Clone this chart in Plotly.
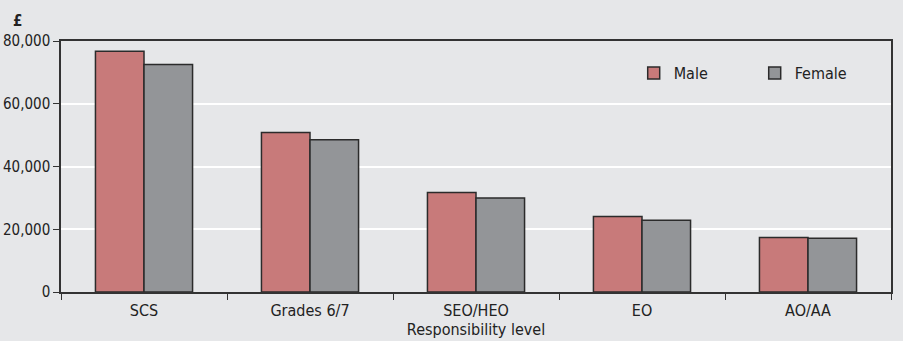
import plotly.graph_objects as go

levels = ["SCS", "Grades 6/7", "SEO/HEO", "EO", "AO/AA"]
male_pay = [76700, 50800, 31700, 24100, 17400]
female_pay = [72500, 48500, 30000, 22900, 17100]
y_ticks = [0, 20000, 40000, 60000, 80000]
y_tick_text = ["0", "20,000", "40,000", "60,000", "80,000"]

BG = "#e6e7e9"
FONT = "Liberation Sans Narrow, DejaVu Sans Condensed, sans-serif"
EDGE = "#2b2b2b"
TEXT = "#222222"

fig = go.Figure()
fig.add_trace(go.Bar(
    name="Male", x=levels, y=male_pay,
    marker=dict(color="#c87a7a", line=dict(color=EDGE, width=1.5)),
))
fig.add_trace(go.Bar(
    name="Female", x=levels, y=female_pay,
    marker=dict(color="#939598", line=dict(color=EDGE, width=1.5)),
))

fig.update_layout(
    width=903, height=341,
    margin=dict(l=61, r=12, t=41, b=49, autoexpand=False),
    paper_bgcolor=BG, plot_bgcolor=BG,
    font=dict(family=FONT, size=16, color=TEXT),
    barmode="group", bargap=0.415, bargroupgap=0,
    legend=dict(
        orientation="h", x=0.69, y=0.872, xanchor="left", yanchor="middle",
        bgcolor="rgba(0,0,0,0)", entrywidth=76, entrywidthmode="pixels",
        font=dict(size=16),
    ),
    xaxis=dict(
        automargin=False,
        showline=True, linecolor="#333333", linewidth=1.5, mirror=True,
        ticks="outside", ticklen=6, tickcolor="#333333", tickson="boundaries",
        showgrid=False, ticklabelstandoff=3,
        title=dict(text="Responsibility level", standoff=3, font=dict(size=16)),
    ),
    yaxis=dict(
        automargin=False,
        range=[0, 80000], tickvals=y_ticks, ticktext=y_tick_text,
        tickfont=dict(size=15),
        showline=True, linecolor="#333333", linewidth=1.5, mirror=True,
        ticks="outside", ticklen=6, tickcolor="#333333",
        showgrid=True, gridcolor="#ffffff", gridwidth=1.5,
        zeroline=False,
    ),
    annotations=[dict(
        text="<b>£</b>", xref="paper", yref="paper", x=-0.052, y=1.0,
        xanchor="center", yanchor="bottom", yshift=9, showarrow=False,
        font=dict(size=15, family=FONT, color=TEXT),
    )],
)

fig.write_html("out.html")
